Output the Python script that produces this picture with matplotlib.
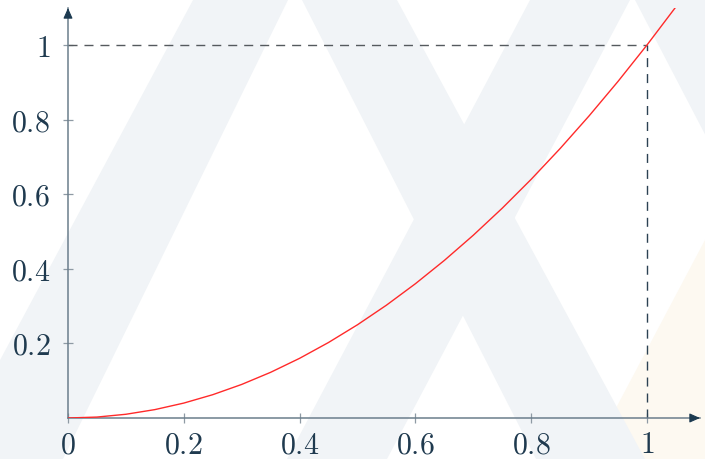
import matplotlib
matplotlib.use("Agg")
import matplotlib.pyplot as plt
from matplotlib.patches import Polygon
from matplotlib.ticker import FixedLocator, FixedFormatter

# ---------------- data ----------------
x_values = [0.00, 0.05, 0.10, 0.15, 0.20, 0.25, 0.30, 0.35, 0.40, 0.45, 0.50,
            0.55, 0.60, 0.65, 0.70, 0.75, 0.80, 0.85, 0.90, 0.95, 1.00, 1.05]
y_values = [0.0, 0.0025, 0.01, 0.0225, 0.04, 0.0625, 0.09, 0.1225, 0.16, 0.2025,
            0.25, 0.3025, 0.36, 0.4225, 0.49, 0.5625, 0.64, 0.7225, 0.81,
            0.9025, 1.0, 1.1025]
x_ticks = [0, 0.2, 0.4, 0.6, 0.8, 1]
x_tick_labels = ["0", "0.2", "0.4", "0.6", "0.8", "1"]
y_ticks = [0.2, 0.4, 0.6, 0.8, 1]
y_tick_labels = ["0.2", "0.4", "0.6", "0.8", "1"]
ref_x = 1.0
ref_y = 1.0

# ---------------- style ----------------
plt.rcParams["mathtext.fontset"] = "cm"
plt.rcParams["lines.scale_dashes"] = False
W, H = 705, 459
TEXT = "#1f3a4f"
AXIS = "#6b7e8c"
NAVY = "#1c3a50"
WM_BLUE = "#f1f4f7"
WM_CREAM = "#fdf9f1"

fig = plt.figure(figsize=(W / 100, H / 100), dpi=100)
fig.patch.set_facecolor("white")

# watermark (decorative background), in pixel coords with y downward
def px_poly(pts, color, z):
    verts = [(x / W, 1 - y / H) for x, y in pts]
    fig.add_artist(Polygon(verts, closed=True, transform=fig.transFigure,
                           facecolor=color, edgecolor="none", zorder=z))

px_poly([(832, 0), (1000, 0), (1000, 459), (589, 459)], WM_CREAM, -12)
px_poly([(193, 0), (288, 0), (63, 459), (-53, 459)], WM_BLUE, -11)
px_poly([(302, 0), (397, 0), (645, 459), (536, 459)], WM_BLUE, -11)
px_poly([(530, 0), (630, 0), (387, 459), (287, 459)], WM_BLUE, -11)
px_poly([(635, 0), (735, 0), (974, 459), (874, 459)], WM_BLUE, -11)

x0, x1 = 68, 647   # pixel positions of x=0 and x=1
y0, y1 = 418, 45   # pixel positions of y=0 and y=1
right_px, top_px = 700, 8
ax = fig.add_axes([x0 / W, (H - y0) / H, (right_px - x0) / W, (y0 - top_px) / H])
ax.set_facecolor("none")
ax.set_xlim(0, (right_px - x0) / (x1 - x0))
ax.set_ylim(0, (y0 - top_px) / (y0 - y1))

for s in ("top", "right"):
    ax.spines[s].set_visible(False)
for s in ("left", "bottom"):
    ax.spines[s].set_color(AXIS)
    ax.spines[s].set_linewidth(1.1)

ax.xaxis.set_major_locator(FixedLocator(x_ticks))
ax.xaxis.set_major_formatter(FixedFormatter(["$%s$" % t for t in x_tick_labels]))
ax.yaxis.set_major_locator(FixedLocator(y_ticks))
ax.yaxis.set_major_formatter(FixedFormatter(["$%s$" % t for t in y_tick_labels]))
ax.tick_params(axis="both", direction="inout", length=7.5, width=0.9,
               color="#8e9aa4", labelsize=21.5, labelcolor=TEXT)
ax.tick_params(axis="x", pad=5)
ax.tick_params(axis="y", pad=9)

# dashed reference lines
ax.plot([0, ref_x], [ref_y, ref_y], color="#555a5e", lw=1.0,
        dashes=(6.5, 5.0), zorder=2)
ax.plot([ref_x, ref_x], [0, ref_y], color="#2c4253", lw=1.0,
        dashes=(6.5, 5.0), zorder=2)

# curve
ax.plot(x_values, y_values, color="#ff2a2a", lw=1.0, zorder=3,
        solid_capstyle="butt")

# arrow heads
arrow_kw = dict(arrowstyle="-|>,head_length=0.45,head_width=0.2",
                color=NAVY, lw=0.8, shrinkA=0, shrinkB=0, mutation_scale=14)
ax.annotate("", xy=(1.0, 0), xytext=(0.985, 0), xycoords="axes fraction",
            textcoords="axes fraction", arrowprops=arrow_kw, annotation_clip=False)
ax.annotate("", xy=(0, 1.0), xytext=(0, 0.98), xycoords="axes fraction",
            textcoords="axes fraction", arrowprops=arrow_kw, annotation_clip=False)

fig.savefig("out.png", dpi=100)
